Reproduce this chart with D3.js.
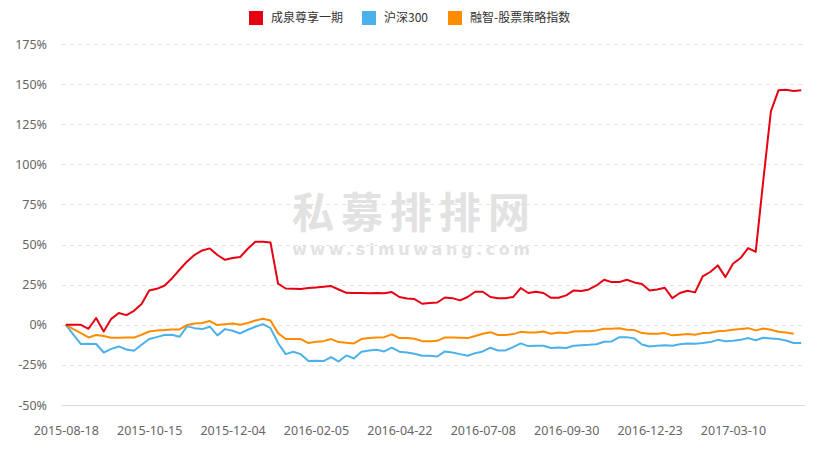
<!DOCTYPE html>
<html>
<head>
<meta charset="utf-8">
<style>
  body { margin: 0; background: #fff; }
  svg { display: block; font-family: "Noto Sans", "Noto Sans CJK SC", sans-serif; }
  .grid line { stroke: #e3e3e3; stroke-dasharray: 4,4; }
  .tick text { fill: #666; font-size: 12.5px; }
  .legend text { fill: #333; font-size: 12px; font-family: "Noto Sans CJK SC", sans-serif; }
</style>
</head>
<body>
<svg width="833" height="454"></svg>
<script src="https://cdn.jsdelivr.net/npm/d3@7"></script>
<script>

// x 轴标签（每 11 个数据点显示一个）
var dateLabels = ["2015-08-18", "2015-10-15", "2015-12-04", "2016-02-05", "2016-04-22",
                  "2016-07-08", "2016-09-30", "2016-12-23", "2017-03-10"];
var labelStep = 11;
var nPoints = 98;

var seriesNames = ["成泉尊享一期", "沪深300", "融智-股票策略指数"];

// 累计收益 (%)
var chengquan = [0, 0, 0, -2.5, 4.2, -4.2, 3.7, 7.3, 6.0, 8.7,
  12.9, 21.4, 22.4, 24.3, 28.9, 34.3, 39.5, 43.6, 46.3, 47.6,
  43.5, 40.5, 41.6, 42.2, 47.4, 51.7, 51.7, 51.3, 25.6, 22.6,
  22.4, 22.3, 22.9, 23.3, 23.7, 24.1, 22.0, 19.9, 19.8, 19.8,
  19.7, 19.8, 19.6, 20.4, 17.3, 16.4, 16.0, 13.1, 13.5, 13.9,
  17.0, 16.6, 15.2, 17.3, 20.6, 20.6, 17.3, 16.6, 16.6, 17.3,
  22.9, 19.8, 20.6, 19.8, 16.8, 16.8, 18.3, 21.4, 21.0, 22.0,
  24.5, 28.1, 26.6, 26.6, 28.1, 26.4, 25.4, 21.4, 22.0, 23.1,
  16.6, 19.8, 21.2, 20.2, 30.1, 32.9, 37.0, 29.7, 38.0, 41.6,
  47.8, 45.5, 90.0, 133.0, 146.1, 146.5, 145.7, 146.1];

var hs300 = [0, -6.2, -12.0, -11.8, -12.0, -17.3, -15.0, -13.5, -15.4, -16.2,
  -12.5, -8.9, -7.7, -6.4, -6.2, -7.5, -1.0, -2.1, -2.7, -1.2,
  -6.6, -2.7, -3.7, -5.4, -3.1, -1.2, 0.4, -2.1, -11.4, -18.3,
  -16.8, -18.3, -22.6, -22.4, -22.6, -20.2, -22.9, -19.1, -21.0, -16.8,
  -16.0, -15.6, -16.6, -14.3, -16.8, -17.3, -18.1, -19.3, -19.3, -19.8,
  -16.6, -17.3, -18.3, -19.3, -17.7, -16.6, -14.3, -16.0, -16.0, -13.9,
  -11.6, -13.3, -13.1, -13.1, -14.5, -14.1, -14.5, -13.1, -12.7, -12.5,
  -12.1, -10.6, -10.4, -7.7, -7.7, -8.5, -12.3, -13.5, -13.1, -12.7,
  -13.1, -12.1, -11.6, -11.8, -11.4, -10.8, -9.4, -10.2, -10.0, -9.4,
  -8.3, -9.6, -8.1, -8.5, -8.9, -9.8, -11.4, -11.4];

var rongzhi = [0, -2.7, -5.2, -7.9, -6.4, -7.0, -8.1, -8.1, -8.0, -8.0,
  -6.2, -4.2, -3.5, -3.3, -2.9, -2.9, -0.2, 0.8, 1.1, 2.3,
  -0.2, 0.4, 0.8, 0, 1.1, 2.7, 3.7, 2.7, -5.2, -8.9,
  -8.9, -8.9, -11.4, -10.6, -10.2, -8.9, -10.8, -11.2, -11.6, -8.9,
  -8.3, -7.9, -7.7, -6.0, -8.3, -8.3, -8.7, -10.2, -10.2, -10.0,
  -7.9, -7.9, -8.1, -8.3, -7.0, -5.6, -4.6, -6.4, -6.4, -5.8,
  -4.4, -4.8, -4.8, -4.2, -5.6, -4.8, -5.2, -4.2, -4.0, -4.0,
  -3.5, -2.5, -2.5, -2.1, -3.1, -3.3, -5.2, -5.6, -5.6, -5.2,
  -6.6, -6.2, -5.8, -6.2, -5.2, -5.0, -4.0, -3.7, -3.1, -2.7,
  -2.1, -3.5, -2.3, -3.1, -4.4, -4.8, -5.6, null];

var yTicks = [-50, -25, 0, 25, 50, 75, 100, 125, 150, 175];
var colors = ["#e60012", "#4cb1ea", "#ff8c00"];

var svg = d3.select("svg");
var plotLeft = 62, plotRight = 805, plotTop = 44, plotBottom = 405;

var x = d3.scalePoint()
    .domain(d3.range(nPoints))
    .range([plotLeft, plotRight])
    .padding(0.5);

var y = d3.scaleLinear()
    .domain([-50, 175])
    .range([plotBottom, plotTop]);

// 水印
var wm = svg.append("g").attr("fill", "#e2e2e2").attr("text-anchor", "middle");
wm.append("text")
    .attr("x", 411).attr("y", 228)
    .attr("font-size", 42).attr("font-weight", "bold")
    .attr("font-family", "Noto Sans CJK SC")
    .attr("textLength", 238).attr("lengthAdjust", "spacing")
    .text("私募排排网");
wm.append("text")
    .attr("x", 411).attr("y", 255)
    .attr("font-size", 16).attr("font-weight", "bold")
    .attr("font-family", "DejaVu Sans")
    .attr("textLength", 238).attr("lengthAdjust", "spacing")
    .text("www.simuwang.com");

// 网格线
svg.append("g").attr("class", "grid")
  .selectAll("line")
  .data(yTicks.filter(d => d > -50))
  .enter().append("line")
    .attr("x1", plotLeft).attr("x2", plotRight)
    .attr("y1", d => Math.round(y(d)) + 0.5)
    .attr("y2", d => Math.round(y(d)) + 0.5);

// x 轴线
svg.append("line")
    .attr("x1", plotLeft).attr("x2", plotRight)
    .attr("y1", plotBottom + 0.5).attr("y2", plotBottom + 0.5)
    .attr("stroke", "#dcdcdc");

// y 轴
var yAxis = svg.append("g")
    .attr("transform", "translate(" + plotLeft + ",0)")
    .call(d3.axisLeft(y).tickValues(yTicks).tickSize(0).tickPadding(15).tickFormat(d => d + "%"));
yAxis.select(".domain").remove();
yAxis.selectAll("text").attr("font-family", "Noto Sans");

// x 轴
var xAxis = svg.append("g")
    .attr("transform", "translate(0," + plotBottom + ")")
    .call(d3.axisBottom(x)
      .tickValues(d3.range(0, nPoints, labelStep).slice(0, dateLabels.length))
      .tickSize(0).tickPadding(21)
      .tickFormat(i => dateLabels[i / labelStep]));
xAxis.select(".domain").remove();
xAxis.selectAll("text").attr("font-family", "Noto Sans");

// 折线
var line = d3.line()
    .defined(d => d != null)
    .x((d, i) => x(i))
    .y(d => y(d));

var allSeries = [chengquan, hs300, rongzhi];
// 绘制顺序：沪深300、融智、成泉在上
[1, 2, 0].forEach(function (k) {
  svg.append("path")
      .datum(allSeries[k])
      .attr("fill", "none")
      .attr("stroke", colors[k])
      .attr("stroke-width", 2)
      .attr("stroke-linejoin", "round")
      .attr("d", line);
});

// 图例
var legendX = [249, 362, 448];
var legend = svg.append("g").attr("class", "legend");
seriesNames.forEach(function (name, k) {
  legend.append("rect")
      .attr("x", legendX[k]).attr("y", 11)
      .attr("width", 14).attr("height", 14)
      .attr("fill", colors[k]);
  legend.append("text")
      .attr("x", legendX[k] + 22).attr("y", 22)
      .text(name);
});

</script>
</body>
</html>
